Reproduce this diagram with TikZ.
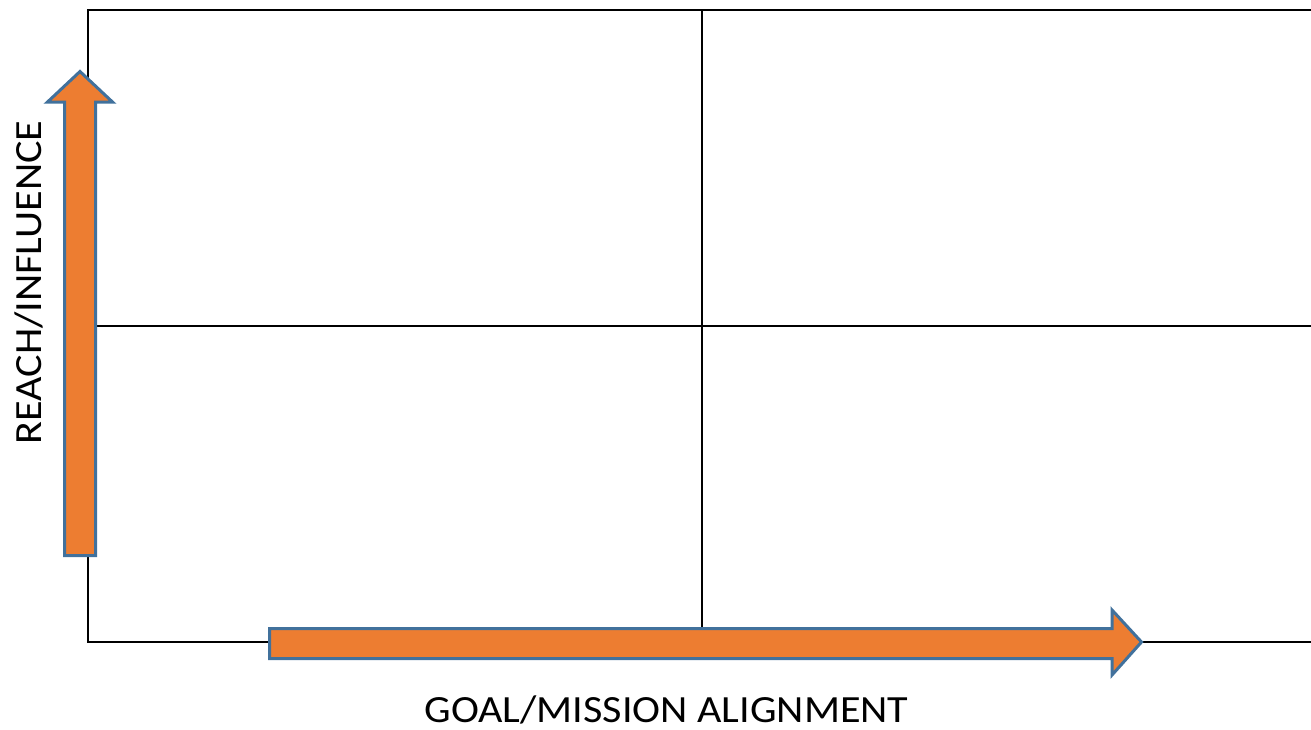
\documentclass[tikz,border=0pt]{standalone}
\usepackage{fontspec}
\setmainfont{Carlito}
\newfontfamily\labelfont[FakeStretch=1.095]{Carlito}
\definecolor{arrowfill}{HTML}{ED7D31}
\definecolor{arrowedge}{HTML}{41719C}
\begin{document}
\begin{tikzpicture}[x=1pt,y=-1pt,
  gridline/.style={line width=2pt,black},
  fatarrow/.style={fill=arrowfill,draw=arrowedge,line width=3pt,line join=miter},
  axislabel/.style={font=\labelfont\fontsize{38.5}{46}\selectfont,inner sep=0pt}]
\useasboundingbox (0,0) rectangle (1311,729);
% quadrant grid (open on the right side)
\coordinate (tl) at (88,10);
\coordinate (bl) at (88,642);
\coordinate (tr) at (1311,10);
\coordinate (br) at (1311,642);
\coordinate (tm) at (702,10);
\coordinate (bm) at (702,642);
\coordinate (ml) at (88,326);
\coordinate (mr) at (1311,326);
\draw[gridline] (tr) -- (tl) -- (bl) -- (br);
\draw[gridline] (tm) -- (bm);
\draw[gridline] (ml) -- (mr);
% vertical block arrow
\draw[fatarrow] (64.5,555.5) -- (64.5,102) -- (47.5,102) -- (80,71.5)
  -- (112.5,102) -- (95.5,102) -- (95.5,555.5) -- cycle;
% horizontal block arrow
\draw[fatarrow] (269.5,628.5) -- (1112,628.5) -- (1112,610) -- (1141.5,642)
  -- (1112,675) -- (1112,658.5) -- (269.5,658.5) -- cycle;
% axis labels
\node[axislabel,anchor=base] (xlabel) at (666.5,722) {GOAL/MISSION ALIGNMENT};
\node[axislabel,anchor=base,rotate=90] (ylabel) at (41,282.5) {REACH/INFLUENCE};
\end{tikzpicture}
\end{document}
